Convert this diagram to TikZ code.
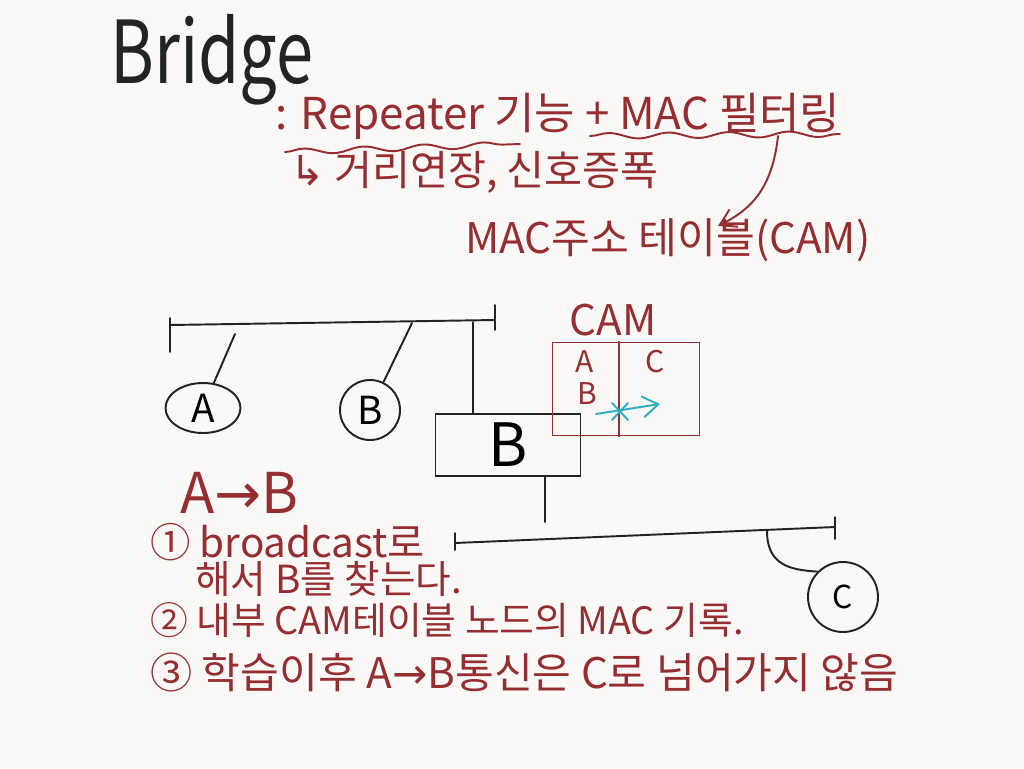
\documentclass[tikz,border=0pt]{standalone}
\usepackage{fontspec}
\setmainfont{Noto Sans CJK KR}
\newfontfamily\arrowfont{DejaVu Sans}
\usetikzlibrary{shapes.geometric,arrows.meta,decorations.pathmorphing,calc}
\definecolor{paper}{RGB}{250,249,247}
\definecolor{inkblack}{RGB}{35,35,35}
\definecolor{inkred}{RGB}{150,45,48}
\definecolor{inkcyan}{RGB}{45,175,190}

\begin{document}
\begin{tikzpicture}[x=0.02cm,y=-0.02cm,
  wire/.style={line width=1.1pt,draw=inkblack,line cap=round},
  redwire/.style={line width=1.1pt,draw=inkred,line cap=round},
  note/.style={text=inkred,anchor=west,inner sep=0pt,font=\fontsize{22}{26}\selectfont},
  entry/.style={text=inkred,inner sep=0pt,font=\fontsize{17}{20}\selectfont},
  host/.style={circle,draw=inkblack,line width=1.1pt,inner sep=0pt,minimum size=1.2cm,font=\fontsize{22}{26}\selectfont},
  wavy/.style={redwire,decorate,decoration={snake,amplitude=1.6pt,segment length=1.2cm}}]
  % paper
  \fill[paper] (0,0) rectangle (1024,768);
  \useasboundingbox (0,0) rectangle (1024,768);
  % heading notes
  \node[anchor=west,inner sep=0pt,text=inkblack,font=\fontsize{38}{44}\selectfont] (title) at (110,60) {\scalebox{1}[1.3]{Bridge}};
  \node[note,font=\fontsize{25}{29}\selectfont] (feat) at (275,116) {: Repeater 기능 + MAC 필터링};
  \node[note,font=\fontsize{23.5}{28}\selectfont] (gain) at (290,172) {{\arrowfont ↳} 거리연장, 신호증폭};
  \node[note,font=\fontsize{24}{28}\selectfont] (camnote) at (465,240) {MAC주소 테이블(CAM)};
  % wavy underlines
  \draw[wavy] (285,152) -- (520,144);
  \draw[wavy] (590,136) -- (840,134);
  % arrow: MAC filtering -> address table
  \coordinate (filt) at (778,136);
  \coordinate (tabl) at (718,226);
  \draw[redwire,-{Straight Barb[length=9pt,width=11pt]}] (filt) .. controls (772,190) and (750,210) .. (tabl);

  % upper segment
  \coordinate (busL) at (170,325);
  \coordinate (busR) at (495,320);
  \draw[wire] (busL) -- (busR);
  \draw[wire] ([yshift=0.14cm]busL) -- ([yshift=-0.54cm]busL);
  \draw[wire] ([yshift=0.3cm]busR) -- ([yshift=-0.2cm]busR);
  % hosts A and B
  \node[host,ellipse,minimum width=1.5cm,minimum height=1.0cm] (hostA) at (203,408) {A};
  \node[host] (hostB) at (370,410) {B};
  \coordinate (tapA) at (235,334);
  \coordinate (tapB) at (412,323);
  \draw[wire] (tapA) -- (hostA);
  \draw[wire] (tapB) -- (hostB);
  % bridge box
  \node[draw=inkblack,line width=1.1pt,minimum width=2.9cm,minimum height=1.25cm,font=\fontsize{34}{40}\selectfont] (bridge) at (508,445) {B};
  \coordinate (tapBr) at (473,322);
  \draw[wire] (tapBr) -- (tapBr |- bridge.north);
  \coordinate (tapDn) at (545,522);
  \draw[wire] (tapDn |- bridge.south) -- (tapDn);

  % lower segment
  \coordinate (busL2) at (455,543);
  \coordinate (busR2) at (835,527);
  \draw[wire] (busL2) -- (busR2);
  \draw[wire] ([yshift=0.2cm]busL2) -- ([yshift=-0.14cm]busL2);
  \draw[wire] ([yshift=0.2cm]busR2) -- ([yshift=-0.24cm]busR2);
  % host C
  \node[host,minimum size=1.4cm,font=\fontsize{18}{22}\selectfont] (hostC) at (843,597) {C};
  \coordinate (tapC) at (767,531);
  \draw[wire] (tapC) .. controls (767,565) and (790,570) .. (hostC.north west);

  % CAM table
  \node[text=inkred,inner sep=0pt,font=\fontsize{24}{28}\selectfont] (camlbl) at (613,320) {CAM};
  \node[draw=inkred,line width=1.1pt,minimum width=2.94cm,minimum height=1.86cm] (camtab) at (626,389) {};
  \draw[redwire] ($(camtab.north west)!0.456!(camtab.north east)$) -- ($(camtab.south west)!0.456!(camtab.south east)$);
  \node[entry] (entA) at (585,362) {A};
  \node[entry] (entB) at (587,394) {B};
  \node[entry] (entC) at (655,362) {C};
  % blocked forwarding (cyan)
  \coordinate (flowS) at (596,414);
  \coordinate (flowE) at (660,404);
  \draw[line width=1.1pt,draw=inkcyan,line cap=round,-{Straight Barb[length=9pt,width=12pt]}] (flowS) -- (flowE);
  \draw[line width=1.1pt,draw=inkcyan,line cap=round] (612,403) -- (628,420) (612,420) -- (628,403);

  % learning steps
  \node[note,font=\fontsize{32}{36}\selectfont] (flow) at (180,493) {A{\arrowfont →}B};
  \node[note,font=\fontsize{23}{27}\selectfont] (step1) at (150,542) {① broadcast로};
  \node[note] (step1b) at (195,579) {해서 B를 찾는다.};
  \node[note,font=\fontsize{21.5}{25}\selectfont] (step2) at (150,620) {② 내부 CAM테이블 노드의 MAC 기록.};
  \node[note,font=\fontsize{24}{28}\selectfont] (step3) at (150,672) {③ 학습이후 A{\arrowfont →}B통신은 C로 넘어가지 않음};
\end{tikzpicture}
\end{document}
